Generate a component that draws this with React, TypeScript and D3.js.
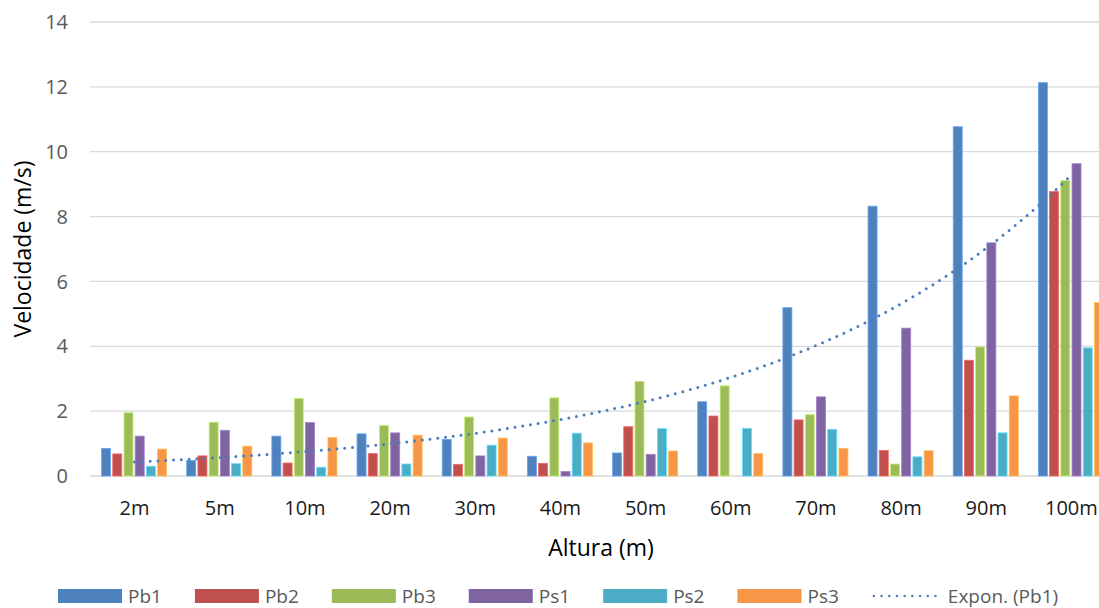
import { useEffect, useRef } from "react";
import * as d3 from "d3";

// alturas (categorias) e velocidades
const categories = ["2m", "5m", "10m", "20m", "30m", "40m", "50m", "60m", "70m", "80m", "90m", "100m"];
const pb1 = [0.85, 0.48, 1.23, 1.3, 1.13, 0.61, 0.71, 2.29, 5.19, 8.32, 10.77, 12.13];
const pb2 = [0.68, 0.62, 0.4, 0.69, 0.36, 0.39, 1.52, 1.85, 1.73, 0.79, 3.57, 8.77];
const pb3 = [1.95, 1.66, 2.39, 1.56, 1.82, 2.41, 2.92, 2.78, 1.89, 0.37, 3.98, 9.11];
const ps1 = [1.23, 1.41, 1.65, 1.33, 0.62, 0.14, 0.67, 0, 2.44, 4.56, 7.19, 9.63];
const ps2 = [0.3, 0.38, 0.27, 0.37, 0.95, 1.32, 1.46, 1.47, 1.44, 0.59, 1.33, 3.95];
const ps3 = [0.83, 0.92, 1.19, 1.26, 1.17, 1.02, 0.77, 0.69, 0.85, 0.78, 2.47, 5.35];
const seriesNames = ["Pb1", "Pb2", "Pb3", "Ps1", "Ps2", "Ps3"];
const yTicks = [0, 2, 4, 6, 8, 10, 12, 14];

const colors = ["#4F81BD", "#C0504D", "#9BBB59", "#8064A2", "#4BACC6", "#F79646"];
const font = "'Open Sans', sans-serif";

const App = () => {
  const ref = useRef<SVGSVGElement | null>(null);

  useEffect(() => {
    const data = [pb1, pb2, pb3, ps1, ps2, ps3];
    const W = 1099, H = 608;
    const margin = { top: 22, left: 92, bottom: 132 };
    const plotRight = 1114;
    const svg = d3.select(ref.current);
    svg.selectAll("*").remove();

    const x0 = d3.scaleBand().domain(categories).range([margin.left, plotRight])
      .paddingInner(0.21).paddingOuter(0.105);
    const x1 = d3.scaleBand().domain(seriesNames).range([0, x0.bandwidth()]);
    const y = d3.scaleLinear().domain([0, 14]).range([H - margin.bottom, margin.top]);

    // grid
    svg.append("g").selectAll("line").data(yTicks).enter().append("line")
      .attr("x1", margin.left - 2).attr("x2", W)
      .attr("y1", d => y(d)).attr("y2", d => y(d))
      .attr("stroke", "#D9D9D9").attr("stroke-width", 1.3);

    svg.append("g").selectAll("text").data(yTicks).enter().append("text")
      .attr("x", 68).attr("y", d => y(d)).attr("dy", "0.36em")
      .attr("text-anchor", "end").attr("font-family", font).attr("font-size", 20)
      .attr("fill", "#595959").text(d => d);

    // bars
    const groups = svg.append("g").selectAll("g").data(categories).enter().append("g")
      .attr("transform", d => `translate(${x0(d)},0)`);
    groups.selectAll("rect")
      .data((_, i) => seriesNames.map((s, k) => ({ s, k, v: data[k][i] })))
      .enter().append("rect")
      .attr("x", d => (x1(d.s) as number) + 0.6)
      .attr("y", d => y(d.v))
      .attr("width", x1.bandwidth() - 2.2)
      .attr("height", d => y(0) - y(d.v))
      .attr("fill", d => colors[d.k])
      .attr("stroke", d => d3.color(colors[d.k])!.brighter(0.7).formatHex())
      .attr("stroke-width", 0.8);

    // x labels
    svg.append("g").selectAll("text").data(categories).enter().append("text")
      .attr("x", d => (x0(d) as number) + x0.bandwidth() / 2)
      .attr("y", 508).attr("dy", "0.36em").attr("text-anchor", "middle")
      .attr("font-family", font).attr("font-size", 20).attr("fill", "#1a1a1a")
      .text(d => d);

    // linha de tendencia exponencial (Pb1), ajuste de minimos quadrados em ln(y)
    const xs = pb1.map((_, i) => i + 1);
    const ls = pb1.map(v => Math.log(v));
    const mx = d3.mean(xs) as number, ml = d3.mean(ls) as number;
    const b = d3.sum(xs, (v, i) => (v - mx) * (ls[i] - ml)) / d3.sum(xs, v => (v - mx) * (v - mx));
    const a = Math.exp(ml - b * mx);
    const cx = d3.scaleLinear().domain([1, 12])
      .range([(x0(categories[0]) as number) + x0.bandwidth() / 2, (x0(categories[11]) as number) + x0.bandwidth() / 2]);
    const pts = d3.range(1, 12.001, 0.05).map(t => [cx(t), y(a * Math.exp(b * t))] as [number, number]);
    svg.append("path").attr("d", d3.line()(pts)).attr("fill", "none")
      .attr("stroke", "#4A7EBB").attr("stroke-width", 3)
      .attr("stroke-linecap", "round").attr("stroke-dasharray", "0 7.8");

    // titulos
    svg.append("text").attr("x", 601).attr("y", 548).attr("dy", "0.36em")
      .attr("text-anchor", "middle").attr("font-family", font).attr("font-size", 23)
      .attr("fill", "#000").text("Altura (m)");
    svg.append("text").attr("transform", `translate(23,${(y(0) + y(14)) / 2}) rotate(-90)`)
      .attr("dy", "0.36em").attr("text-anchor", "middle").attr("font-family", font)
      .attr("font-size", 23).attr("fill", "#000").text("Velocidade (m/s)");

    // legenda
    const lg = svg.append("g");
    let lx = 58;
    const ly = 595;
    seriesNames.forEach((s, k) => {
      lg.append("rect").attr("x", lx).attr("y", ly - 6).attr("width", 64).attr("height", 14)
        .attr("fill", colors[k]);
      const t = lg.append("text").attr("x", lx + 70).attr("y", ly + 1).attr("dy", "0.36em")
        .attr("font-family", font).attr("font-size", 19).attr("fill", "#595959").text(s);
      lx += 70 + (t.node() as SVGTextElement).getComputedTextLength() + 33;
    });
    lg.append("line").attr("x1", lx + 2).attr("x2", lx + 64).attr("y1", ly + 1).attr("y2", ly + 1)
      .attr("stroke", "#4A7EBB").attr("stroke-width", 2.5).attr("stroke-linecap", "round")
      .attr("stroke-dasharray", "0 7.7");
    lg.append("text").attr("x", lx + 76).attr("y", ly + 1).attr("dy", "0.36em")
      .attr("font-family", font).attr("font-size", 19).attr("fill", "#595959").text("Expon. (Pb1)");
  }, []);

  return (
    <svg ref={ref} width={1099} height={608}
      style={{ position: "absolute", left: 0, top: 0, background: "#fff" }} />
  );
};

export default App;
